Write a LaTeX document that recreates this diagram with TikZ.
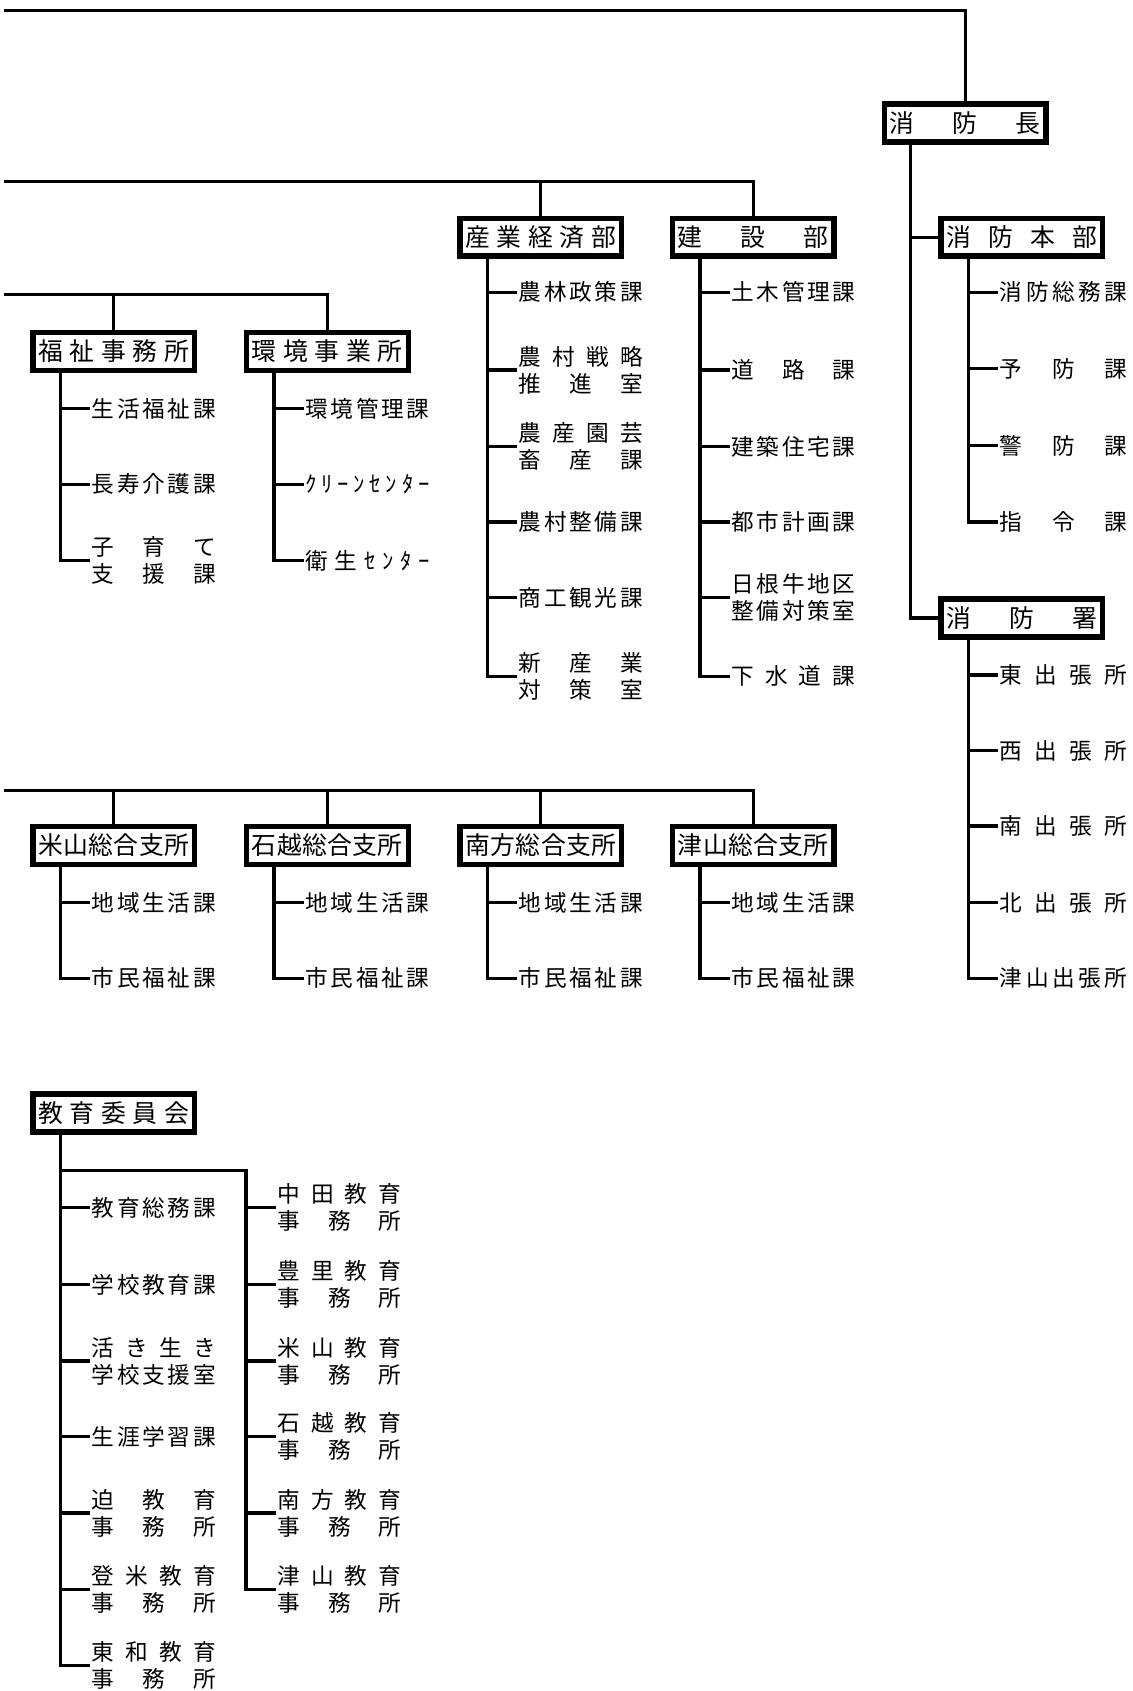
\documentclass[tikz,border=0pt]{standalone}
\usepackage{fontspec}
\setmainfont{Noto Sans CJK JP}
\makeatletter
\def\sprloop#1{#1\futurelet\sprnext\sprcheck}
\def\sprcheck{\ifx\sprnext\relax\expandafter\@gobble\else\hfill\expandafter\sprloop\fi}
\makeatother
\newcommand\spr[2][115pt]{\makebox[#1][s]{\sprloop#2\relax}}
\tikzset{
  bu/.style={draw, line width=5pt, minimum width=150pt, minimum height=35pt, inner sep=0pt, font=\fontsize{23}{23}\selectfont},
  itm/.style={anchor=west, inner xsep=3pt, inner ysep=0pt, align=left, font=\fontsize{21}{25}\selectfont},
  main/.style={line width=3pt, line cap=rect},
  drop/.style={line width=2.5pt},
  sub/.style={line width=3pt, line cap=rect},
}
\begin{document}
\begin{tikzpicture}[x=1pt, y=-1pt]
    \useasboundingbox[fill=white] (0,0) rectangle (1050,1568);

    % 部・所
    \node[bu] (chief) at (895,114) {\spr[140pt]{消防長}};
    \node[bu] (honbu) at (947.5,220) {\spr[140pt]{消防本部}};
    \node[bu] (shosho) at (947.5,573) {\spr[140pt]{消防署}};
    \node[bu] (sangyo) at (501.5,220) {\spr[140pt]{産業経済部}};
    \node[bu] (kensetsu) at (698.5,220) {\spr[140pt]{建設部}};
    \node[bu] (fukushi) at (105.5,326) {\spr[140pt]{福祉事務所}};
    \node[bu] (kankyo) at (303.5,326) {\spr[140pt]{環境事業所}};
    \node[bu] (kyoiku) at (105.5,1032) {\spr[140pt]{教育委員会}};

    % 横線
    \coordinate (h1) at (5,10);
    \draw[main] (h1) -- (h1 -| chief.north);
    \draw[drop] (h1 -| chief.north) -- (chief.north);
    \coordinate (h2) at (5,168);
    \draw[main] (h2) -- (h2 -| kensetsu.north);
    \foreach \b in {sangyo,kensetsu}
        \draw[drop] (h2 -| \b.north) -- (\b.north);
    \coordinate (h3) at (5,273);
    \draw[main] (h3) -- (h3 -| kankyo.north);
    \foreach \b in {fukushi,kankyo}
        \draw[drop] (h3 -| \b.north) -- (\b.north);

    % 消防
    \coordinate (cv) at ([xshift=27pt]chief.south west);
    \draw[sub] (cv) |- (honbu.west);
    \draw[sub] (cv) |- (shosho.west);
    \foreach \y/\t [count=\i] in {271/\spr[118pt]{消防総務課}, 342/\spr[118pt]{予防課}, 413/\spr[118pt]{警防課}, 484/\spr[118pt]{指令課}}
    {
        \node[itm] (honbu-\i) at (924,\y) {\t};
        \draw[sub] ([xshift=28pt]honbu.south west) |- (honbu-\i.west);
    }
    \foreach \y/\t [count=\i] in {626/\spr[118pt]{東出張所}, 696/\spr[118pt]{西出張所}, 766/\spr[118pt]{南出張所}, 837/\spr[118pt]{北出張所}, 907/\spr[118pt]{津山出張所}}
    {
        \node[itm] (shosho-\i) at (924,\y) {\t};
        \draw[sub] ([xshift=28pt]shosho.south west) |- (shosho-\i.west);
    }

    % 産業経済部・建設部
    \foreach \y/\t [count=\i] in {271/\spr{農林政策課}, 343/{\spr{農村戦略}\\\spr{推進室}}, 414/{\spr{農産園芸}\\\spr{畜産課}}, 484/\spr{農村整備課}, 554/\spr{商工観光課}, 627/{\spr{新産業}\\\spr{対策室}}}
    {
        \node[itm] (sangyo-\i) at (478,\y) {\t};
        \draw[sub] ([xshift=28pt]sangyo.south west) |- (sangyo-\i.west);
    }
    \foreach \y/\t [count=\i] in {271/\spr{土木管理課}, 343/\spr{道路課}, 414/\spr{建築住宅課}, 484/\spr{都市計画課}, 554/{\spr{日根牛地区}\\\spr{整備対策室}}, 627/\spr{下水道課}}
    {
        \node[itm] (kensetsu-\i) at (675,\y) {\t};
        \draw[sub] ([xshift=28pt]kensetsu.south west) |- (kensetsu-\i.west);
    }

    % 福祉事務所・環境事業所
    \foreach \y/\t [count=\i] in {379/\spr{生活福祉課}, 449/\spr{長寿介護課}, 520/{\spr{子育て}\\\spr{支援課}}}
    {
        \node[itm] (fukushi-\i) at (82,\y) {\t};
        \draw[sub] ([xshift=28pt]fukushi.south west) |- (fukushi-\i.west);
    }
    \foreach \y/\t [count=\i] in {379/\spr{環境管理課}, 449/\spr{ｸﾘｰﾝｾﾝﾀｰ}, 520/\spr{衛生ｾﾝﾀｰ}}
    {
        \node[itm] (kankyo-\i) at (280,\y) {\t};
        \draw[sub] ([xshift=28pt]kankyo.south west) |- (kankyo-\i.west);
    }

    % 総合支所
    \coordinate (h4) at (5,733);
    \foreach \n/\x/\t in {yoneyama/105.5/\spr[140pt]{米山総合支所}, ishikoshi/303.5/\spr[140pt]{石越総合支所}, minamikata/501.5/\spr[140pt]{南方総合支所}, tsuyama/698.5/\spr[140pt]{津山総合支所}}
    {
        \node[bu] (\n) at (\x,784) {\t};
        \draw[drop] (h4 -| \n.north) -- (\n.north);
        \node[itm] (\n-1) at ({\x-23.5},837) {\spr{地域生活課}};
        \node[itm] (\n-2) at ({\x-23.5},907) {\spr{市民福祉課}};
        \draw[sub] ([xshift=28pt]\n.south west) |- (\n-1.west);
        \draw[sub] ([xshift=28pt]\n.south west) |- (\n-2.west);
    }
    \draw[main] (h4) -- (h4 -| tsuyama.north);

    % 教育委員会
    \coordinate (el) at ([xshift=28pt]kyoiku.south west);
    \coordinate (eb) at (228,1085);
    \draw[sub] (el |- eb) -- (eb);
    \foreach \y/\t [count=\i] in {1120/\spr{教育総務課}, 1191/\spr{学校教育課}, 1262/{\spr{活き生き}\\\spr{学校支援室}}, 1332/\spr{生涯学習課}, 1403/{\spr{迫教育}\\\spr{事務所}}, 1474/{\spr{登米教育}\\\spr{事務所}}, 1544/{\spr{東和教育}\\\spr{事務所}}}
    {
        \node[itm] (kyL-\i) at (82,\y) {\t};
        \draw[sub] (el) |- (kyL-\i.west);
    }
    \foreach \y/\t [count=\i] in {1120/\spr{中田教育}, 1191/\spr{豊里教育}, 1262/\spr{米山教育}, 1332/\spr{石越教育}, 1403/\spr{南方教育}, 1474/\spr{津山教育}}
    {
        \node[itm] (kyR-\i) at (254,\y) {\t\\\spr{事務所}};
        \draw[sub] (eb) |- (kyR-\i.west);
    }
\end{tikzpicture}
\end{document}
